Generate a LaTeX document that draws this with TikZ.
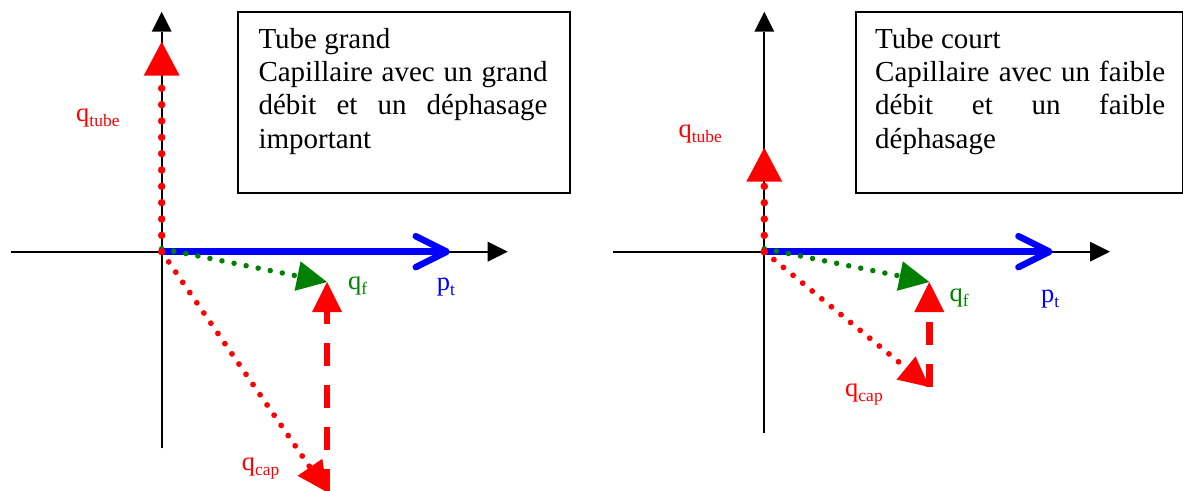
\documentclass[tikz,border=0pt]{standalone}
\usepackage{fontspec}
\setmainfont{Liberation Serif}
\usetikzlibrary{arrows.meta}
\definecolor{qred}{RGB}{255,0,0}
\definecolor{qgreen}{RGB}{0,128,0}
\definecolor{qblue}{RGB}{0,0,255}
\newcommand\sbs[1]{\raisebox{-5pt}{\fontsize{17.5}{17.5}\selectfont #1}}
\begin{document}
\begin{tikzpicture}[x=1pt,y=-1pt,
  axis/.style={line width=1.8pt, black, -{Triangle[length=20pt,width=20pt,line width=0pt]}},
  ptarrow/.style={line width=6.5pt, qblue, line cap=round, -{Straight Barb[length=31pt,width=31pt,round]}},
  qf/.style={line width=5.5pt, qgreen, line cap=round, dash pattern=on 0pt off 12.3pt, -{Triangle[length=30pt,width=30pt,line width=0pt]}},
  qcap/.style={line width=5.8pt, qred, line cap=round, dash pattern=on 0pt off 12.4pt, -{Triangle[length=30pt,width=30pt,line width=0pt]}},
  qtube/.style={line width=7.5pt, qred, line cap=round, dash pattern=on 0pt off 16.34pt, -{Triangle[length=34pt,width=36pt,line width=0pt]}},
  qdash/.style={line width=6.5pt, qred, dash pattern=on 23pt off 19pt, -{Triangle[length=30pt,width=30pt,line width=0pt]}},
  lbl/.style={anchor=base west, inner sep=0pt, font=\fontsize{26.5}{26.5}\selectfont},
  infobox/.style={draw, line width=2pt, anchor=north west, inner sep=0pt, minimum height=181pt},
  boxtext/.style={anchor=base west, inner sep=0pt, font=\fontsize{29}{33.3}\selectfont}
]
\path[use as bounding box] (0,0) rectangle (1183,490);
\clip (0,0) rectangle (1183,490);

% ---------- left panel ----------
\coordinate (O1) at (161.7,251.7);
\coordinate (XL1) at (10.7,251.7);
\coordinate (XR1) at (507.7,251.7);
\coordinate (YB1) at (161.7,448.3);
\coordinate (YT1) at (161.7,11.7);
\coordinate (P1) at (450,251.7);
\coordinate (T1) at (161.7,41.7);
\coordinate (G1) at (161.7,248.7);
\coordinate (F1) at (327,282);
\coordinate (B1) at (327,492);

\draw[axis] (XL1) -- (XR1);
\draw[axis] (YB1) -- (YT1);
\draw[ptarrow] (O1) -- (P1);
\node[infobox, minimum width=332.3pt] (box1) at (236.7,10.7) {};
\node[boxtext] (txt1) at (258.3,48.3) {\parbox[t]{289pt}{Tube grand\\
\makebox[289pt][s]{Capillaire avec un grand}\\
\makebox[289pt][s]{débit et un déphasage}\\
important}};
\draw[qf] (G1) -- (F1);
\draw[qcap] (O1) -- (B1);
\draw[qtube] (O1) -- (T1);
\draw[qdash] (B1) -- (F1);

\node[lbl, qred] (lt1) at (76,121.7) {q\sbs{tube}};
\node[lbl, qgreen] (lf1) at (348,289.3) {q\sbs{f}};
\node[lbl, qblue] (lp1) at (436.7,290) {p\sbs{t}};
\node[lbl, qred] (lc1) at (241.7,470) {q\sbs{cap}};

% ---------- right panel ----------
\coordinate (O2) at (764.3,251.7);
\coordinate (XL2) at (613,251.7);
\coordinate (XR2) at (1110,251.7);
\coordinate (YB2) at (764.3,432.7);
\coordinate (YT2) at (764.3,11.7);
\coordinate (P2) at (1052.7,251.7);
\coordinate (T2) at (764.3,147.7);
\coordinate (G2) at (764.3,248.7);
\coordinate (F2) at (929.3,282);
\coordinate (B2) at (929.3,387);

\draw[axis] (XL2) -- (XR2);
\draw[axis] (YB2) -- (YT2);
\draw[ptarrow] (O2) -- (P2);
\node[infobox, minimum width=327.3pt] (box2) at (855,10.7) {};
\node[boxtext] (txt2) at (875,48.3) {\parbox[t]{290pt}{Tube court\\
\makebox[290pt][s]{Capillaire avec un faible}\\
\makebox[290pt][s]{débit et un faible}\\
déphasage}};
\draw[qf] (G2) -- (F2);
\draw[qcap] (O2) -- (B2);
\draw[qtube] (O2) -- (T2);
\draw[qdash] (B2) -- (F2);

\node[lbl, qred] (lt2) at (678.3,137.3) {q\sbs{tube}};
\node[lbl, qgreen] (lf2) at (949.4,301.7) {q\sbs{f}};
\node[lbl, qblue] (lp2) at (1041,302.3) {p\sbs{t}};
\node[lbl, qred] (lc2) at (845,396.7) {q\sbs{cap}};
\end{tikzpicture}
\end{document}
